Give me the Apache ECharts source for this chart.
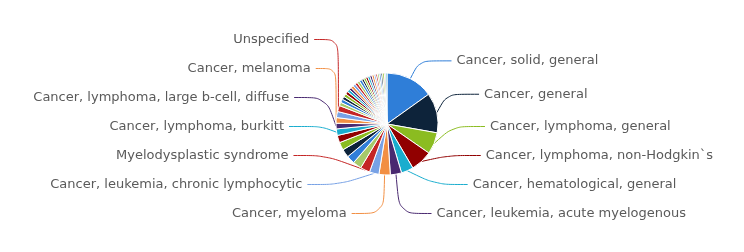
<!DOCTYPE html>
<html>
<head>
<meta charset="utf-8">
<script src="https://cdn.jsdelivr.net/npm/echarts@6/dist/echarts.min.js"></script>
<style>
html,body{margin:0;padding:0;background:#fff;}
#chart{width:744px;height:252px;}
</style>
</head>
<body>
<div id="chart"></div>
<script>
// Slice names, in drawing order (clockwise from 12 o'clock)
var categories = [
  "Cancer, solid, general",
  "Cancer, general",
  "Cancer, lymphoma, general",
  "Cancer, lymphoma, non-Hodgkin`s",
  "Cancer, hematological, general",
  "Cancer, leukemia, acute myelogenous",
  "Cancer, myeloma",
  "Cancer, leukemia, chronic lymphocytic",
  "Myelodysplastic syndrome",
  "Cancer, breast",
  "Cancer, lung, non-small cell",
  "Cancer, prostate",
  "Cancer, colorectal",
  "Cancer, leukemia, acute lymphoblastic",
  "Cancer, lymphoma, burkitt",
  "Cancer, lymphoma, large b-cell, diffuse",
  "Cancer, melanoma",
  "Cancer, ovarian",
  "Unspecified",
  "Cancer, pancreatic",
  "Cancer, renal cell",
  "Cancer, brain, glioma",
  "Cancer, head and neck",
  "Cancer, gastric",
  "Cancer, liver",
  "Cancer, sarcoma",
  "Cancer, cervical",
  "Cancer, bladder",
  "Cancer, lymphoma, Hodgkin`s",
  "Cancer, leukemia, chronic myelogenous",
  "Cancer, neuroblastoma",
  "Cancer, thyroid",
  "Cancer, esophageal",
  "Cancer, endometrial",
  "Cancer, lymphoma, follicular",
  "Cancer, lymphoma, mantle cell",
  "Cancer, lymphoma, T-cell",
  "Cancer, mesothelioma",
  "Cancer, lung, small cell",
  "Cancer, nasopharyngeal",
  "Cancer, testicular",
  "Cancer, Ewing sarcoma",
  "Cancer, osteosarcoma",
  "Cancer, retinoblastoma",
  "Cancer, Wilms tumor"
];
var seriesValues = [
  110, 92, 50, 50, 28, 26, 26, 22, 22,
  20, 19, 19, 18, 17,
  15, 13, 13, 14, 14,
  8, 8, 7, 7, 7, 6, 6, 6, 6, 6, 6, 6, 5, 5, 5, 5, 5, 5, 4, 4, 4, 4, 4, 4, 3, 3
];
// Slices whose label is visible in the chart
var labeledCategories = [
  "Cancer, solid, general",
  "Cancer, general",
  "Cancer, lymphoma, general",
  "Cancer, lymphoma, non-Hodgkin`s",
  "Cancer, hematological, general",
  "Cancer, leukemia, acute myelogenous",
  "Cancer, myeloma",
  "Cancer, leukemia, chronic lymphocytic",
  "Myelodysplastic syndrome",
  "Cancer, lymphoma, burkitt",
  "Cancer, lymphoma, large b-cell, diffuse",
  "Cancer, melanoma",
  "Unspecified"
];
var palette = ['#2f7ed8', '#0d233a', '#8bbc21', '#910000', '#1aadce',
               '#492970', '#f28f43', '#77a1e5', '#c42525', '#a6c96a'];

var data = categories.map(function (name, i) {
  var shown = labeledCategories.indexOf(name) >= 0;
  return {
    name: name,
    value: seriesValues[i],
    label: { show: shown },
    labelLine: { show: shown }
  };
});

var chart = echarts.init(document.getElementById('chart'), null, { renderer: 'canvas' });
chart.setOption({
  animation: false,
  color: palette,
  series: [{
    type: 'pie',
    left: 0,
    top: 0,
    right: 0,
    bottom: 24,
    center: [387, 124],
    radius: [0, 51],
    startAngle: 90,
    clockwise: true,
    avoidLabelOverlap: true,
    minShowLabelAngle: 0,
    itemStyle: { borderColor: '#ffffff', borderWidth: 1 },
    label: {
      position: 'outside',
      color: '#5a5a5a',
      fontFamily: 'DejaVu Sans',
      fontSize: 13,
      lineHeight: 27,
      distanceToLabelLine: 5
    },
    labelLine: {
      length: 20,
      length2: 32,
      smooth: 0.3,
      lineStyle: { width: 1 }
    },
    emphasis: { disabled: true },
    data: data
  }]
});
</script>
</body>
</html>
